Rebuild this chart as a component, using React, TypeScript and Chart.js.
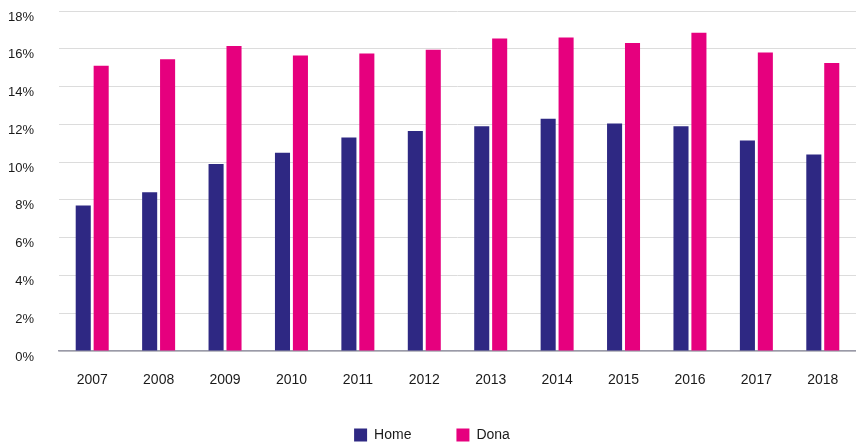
import React, { useEffect, useRef } from "react";
import { Chart, registerables } from "chart.js";

Chart.register(...registerables);

const years = ["2007", "2008", "2009", "2010", "2011", "2012", "2013", "2014", "2015", "2016", "2017", "2018"];
const homeValues = [7.7, 8.4, 9.9, 10.5, 11.3, 11.65, 11.9, 12.3, 12.05, 11.9, 11.15, 10.4];
const donaValues = [15.1, 15.45, 16.15, 15.65, 15.75, 15.95, 16.55, 16.6, 16.3, 16.85, 15.8, 15.25];
const seriesLabels = ["Home", "Dona"];
const yTicks = [0, 2, 4, 6, 8, 10, 12, 14, 16, 18];

const FONT = "'Liberation Sans', Arial, sans-serif";

const legendHeightPlugin = {
  id: "legendHeight",
  beforeLayout(chart: any) {
    const lg = chart.legend;
    if (lg && !lg.__patched) {
      const orig = lg.fit;
      lg.fit = function (this: any) {
        orig.call(this);
        this.height = 61;
      };
      lg.__patched = true;
    }
  },
};

export default function App() {
  const canvasRef = useRef<HTMLCanvasElement | null>(null);

  useEffect(() => {
    document.body.style.margin = "0";
    const canvas = canvasRef.current;
    if (!canvas) return;
    const chart = new Chart(canvas, {
      type: "bar",
      data: {
        labels: years,
        datasets: [
          {
            label: seriesLabels[0],
            data: homeValues,
            backgroundColor: "#2e2883",
            barPercentage: 0.84,
            categoryPercentage: 0.54,
          },
          {
            label: seriesLabels[1],
            data: donaValues,
            backgroundColor: "#e6007e",
            barPercentage: 0.84,
            categoryPercentage: 0.54,
          },
        ],
      },
      options: {
        animation: false,
        responsive: false,
        maintainAspectRatio: false,
        layout: { padding: { top: 11, left: 8, right: 0, bottom: 0 } },
        plugins: {
          tooltip: { enabled: false },
          legend: {
            position: "bottom",
            labels: {
              boxWidth: 13,
              boxHeight: 13,
              padding: 45,
              color: "#1a1a1a",
              font: { family: FONT, size: 14 },
            },
          },
        },
        scales: {
          x: {
            grid: { display: false, drawTicks: false },
            border: { display: true, color: "#9a9aa8", width: 1.5 },
            ticks: {
              color: "#1a1a1a",
              padding: 21,
              font: { family: FONT, size: 14 },
            },
            afterFit: (scale: any) => {
              scale.height = 32;
              scale.paddingLeft = 0;
              scale.paddingRight = 0;
              scale._computeLabelArea = () => undefined;
            },
          },
          y: {
            min: 0,
            max: 18,
            afterBuildTicks: (scale: any) => {
              scale.ticks = yTicks.map((v) => ({ value: v }));
            },
            afterFit: (scale: any) => {
              scale.width = 51;
              scale.paddingTop = 0;
              scale.paddingBottom = 0;
            },
            grid: {
              drawTicks: false,
              color: "#dcdcdc",
              lineWidth: 1,
            },
            border: { display: false },
            ticks: {
              color: "#1a1a1a",
              padding: 25,
              labelOffset: 6,
              font: { family: FONT, size: 13 },
              callback: (v: any) => v + "%",
            },
          },
        },
      },
      plugins: [legendHeightPlugin],
    });
    return () => chart.destroy();
  }, []);

  return (
    <div style={{ width: 856, height: 444 }}>
      <canvas ref={canvasRef} width={856} height={444} style={{ display: "block" }} />
    </div>
  );
}
